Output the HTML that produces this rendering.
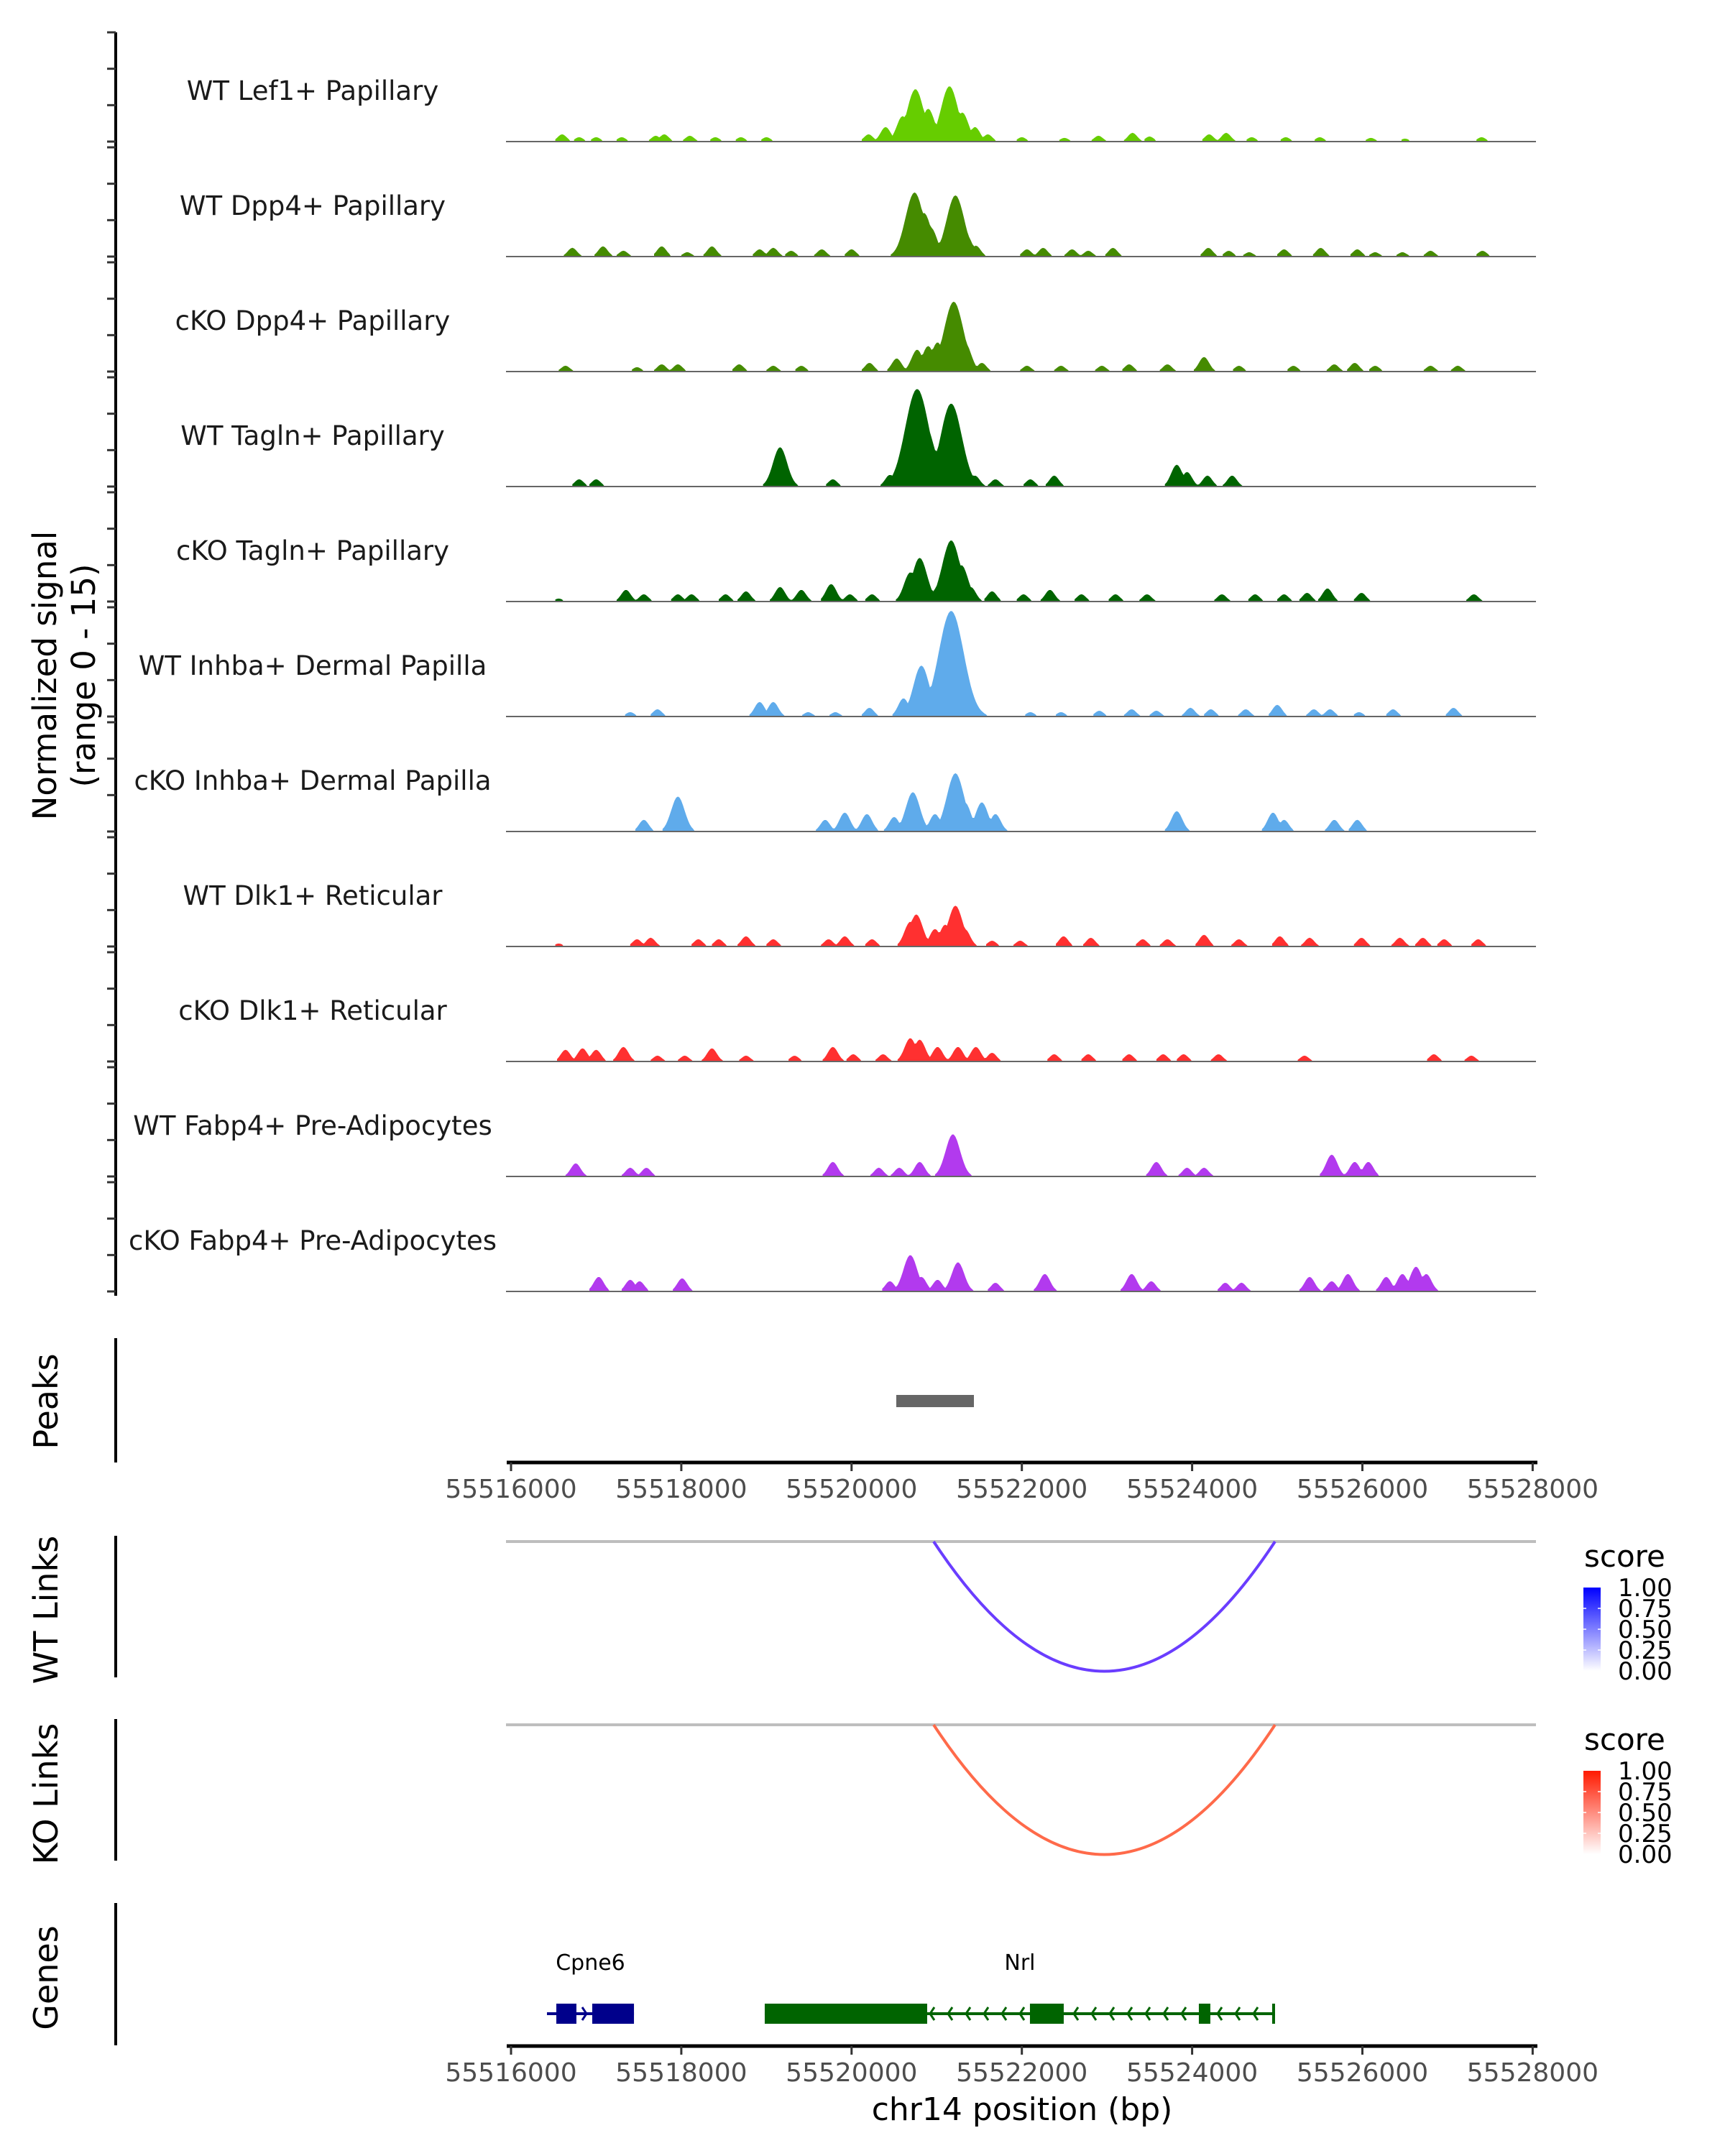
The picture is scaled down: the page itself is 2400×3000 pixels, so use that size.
<!DOCTYPE html>
<html><head><meta charset="utf-8">
<style>
html,body{margin:0;padding:0;background:#fff;}
svg{display:block;font-family:"DejaVu Sans","Liberation Sans",sans-serif;}
</style></head>
<body>
<svg id="fig" width="2400" height="3000" viewBox="0 0 2400 3000" xmlns="http://www.w3.org/2000/svg">
<rect width="2400" height="3000" fill="#fff"/>
</svg>
<script>
// ---- data ----
const regionStart = 55516000;
const regionEnd = 55528000;
const axisTicks = [55516000,55518000,55520000,55522000,55524000,55526000,55528000];
const trackNames = ["WT Lef1+ Papillary","WT Dpp4+ Papillary","cKO Dpp4+ Papillary","WT Tagln+ Papillary","cKO Tagln+ Papillary","WT Inhba+ Dermal Papilla","cKO Inhba+ Dermal Papilla","WT Dlk1+ Reticular","cKO Dlk1+ Reticular","WT Fabp4+ Pre-Adipocytes","cKO Fabp4+ Pre-Adipocytes"];
const trackColors = ["#66cd00","#458b00","#458b00","#006400","#006400","#5fabeb","#5fabeb","#ff3030","#ff3030","#b23aee","#b23aee"];
// peak positions (kb from region start) and heights (signal units)
const pos0 = [0.6,0.8,1.0,1.3,1.7,1.8,2.1,2.4,2.7,3.0,4.2,4.4,4.6,4.75,4.9,5.05,5.15,5.3,5.45,5.6,6.0,6.5,6.9,7.3,7.5,8.2,8.4,8.7,9.1,9.5,10.1,10.5,11.4];
const val0 = [1.0,0.6,0.6,0.6,0.8,1.0,0.8,0.6,0.6,0.6,1.0,2.0,3.5,7.2,4.5,3.0,7.6,4.0,2.0,1.0,0.6,0.5,0.8,1.2,0.7,1.0,1.2,0.6,0.6,0.6,0.5,0.4,0.6];
const pos1 = [0.72,1.08,1.32,1.77,2.07,2.36,2.92,3.08,3.29,3.65,4.0,4.61,4.74,4.85,4.93,5.1,5.22,5.35,5.46,6.06,6.25,6.59,6.78,7.07,8.19,8.43,8.67,9.08,9.51,9.94,10.15,10.47,10.8,11.41];
const val1 = [1.2,1.4,0.8,1.4,0.6,1.4,1.0,1.2,0.8,1.0,1.0,2.0,8.8,6.0,4.0,3.0,8.4,3.0,1.5,1.0,1.2,1.0,0.8,1.2,1.2,0.8,0.6,1.0,1.2,1.0,0.6,0.6,0.8,0.8];
const pos2 = [0.64,1.48,1.77,1.96,2.68,3.08,3.41,4.21,4.53,4.77,4.9,5.01,5.2,5.33,5.53,6.06,6.46,6.94,7.26,7.71,8.14,8.55,9.19,9.67,9.91,10.15,10.8,11.12];
const val2 = [0.8,0.6,1.0,1.0,1.0,0.8,0.8,1.2,1.8,3.0,3.5,4.0,9.6,4.0,1.2,0.8,0.8,0.8,1.0,1.0,2.0,0.8,0.8,1.0,1.2,0.8,0.8,0.8];
const pos3 = [0.8,1.0,3.16,3.78,4.45,4.77,4.88,4.98,5.17,5.25,5.33,5.45,5.69,6.1,6.38,7.82,7.94,8.18,8.47];
const val3 = [1.0,1.0,5.4,1.0,1.6,13.4,8.0,5.0,11.4,7.0,3.0,1.5,1.0,1.0,1.5,3.0,2.0,1.5,1.5];
const pos4 = [0.56,1.35,1.56,1.96,2.12,2.52,2.76,3.16,3.41,3.76,3.98,4.24,4.69,4.8,5.01,5.17,5.29,5.4,5.65,6.02,6.33,6.7,7.1,7.47,8.35,8.74,9.08,9.35,9.59,9.99,11.31];
const val4 = [0.4,1.6,1.0,1.0,1.0,1.0,1.4,2.0,1.6,2.4,1.0,1.0,4.0,6.0,2.0,8.4,5.0,2.0,1.4,1.0,1.6,1.0,1.0,1.0,1.0,1.0,1.0,1.2,1.8,1.2,1.0];
const pos5 = [1.4,1.72,2.92,3.08,3.49,3.81,4.21,4.61,4.82,4.92,5.01,5.17,5.3,5.49,6.1,6.46,6.91,7.29,7.58,7.98,8.22,8.63,9.0,9.43,9.62,9.96,10.36,11.07];
const val5 = [0.6,1.0,2.0,2.0,0.6,0.6,1.2,2.5,7.0,4.0,3.0,14.5,6.0,1.0,0.6,0.6,0.8,1.0,0.8,1.2,1.0,1.0,1.6,1.0,1.0,0.6,1.0,1.2];
const pos6 = [1.56,1.96,3.69,3.92,4.18,4.5,4.72,4.98,5.1,5.22,5.33,5.53,5.69,7.82,8.95,9.08,9.67,9.94];
const val6 = [1.6,4.8,1.6,2.6,2.4,2.0,5.4,2.4,2.4,8.0,4.0,4.0,2.4,2.8,2.6,1.6,1.6,1.6];
const pos7 = [0.56,1.48,1.64,2.2,2.44,2.76,3.08,3.73,3.92,4.24,4.69,4.76,4.98,5.1,5.22,5.33,5.65,5.98,6.49,6.81,7.42,7.71,8.14,8.55,9.03,9.38,9.99,10.44,10.71,10.96,11.36];
const val7 = [0.4,1.0,1.2,1.0,1.0,1.4,1.0,1.0,1.4,1.0,3.4,4.4,2.4,3.0,5.6,2.4,0.8,0.8,1.4,1.2,1.0,1.0,1.6,1.0,1.4,1.2,1.2,1.2,1.2,1.0,1.0];
const pos8 = [0.64,0.84,1.0,1.32,1.72,2.04,2.36,2.76,3.33,3.78,4.02,4.37,4.69,4.8,5.01,5.25,5.46,5.65,6.38,6.78,7.26,7.66,7.9,8.31,9.32,10.84,11.28];
const val8 = [1.6,1.8,1.6,2.0,0.8,0.8,1.8,0.8,0.8,2.0,1.0,1.0,3.2,3.0,2.0,2.0,2.0,1.2,1.0,1.0,1.0,1.0,1.0,1.0,0.8,1.0,0.8];
const pos9 = [0.76,1.4,1.59,3.78,4.32,4.56,4.8,5.19,7.58,7.94,8.14,9.64,9.91,10.07];
const val9 = [1.8,1.2,1.2,2.0,1.2,1.2,2.0,5.8,2.0,1.2,1.2,3.0,2.0,2.0];
const pos10 = [1.03,1.4,1.51,2.01,4.45,4.69,4.82,5.01,5.25,5.69,6.27,7.29,7.52,8.39,8.58,9.38,9.64,9.83,10.28,10.47,10.63,10.75];
const val10 = [2.0,1.6,1.4,1.8,1.4,5.0,2.0,1.6,4.0,1.2,2.4,2.4,1.4,1.2,1.2,2.0,1.4,2.4,2.0,2.4,3.4,2.4];
const trackPos = [pos0,pos1,pos2,pos3,pos4,pos5,pos6,pos7,pos8,pos9,pos10];
const trackVal = [val0,val1,val2,val3,val4,val5,val6,val7,val8,val9,val10];
const peakStart = [55520525];
const peakEnd = [55521437];
const wtLinkStart = [55520964], wtLinkEnd = [55524974], wtLinkScore = [0.78];
const koLinkStart = [55520964], koLinkEnd = [55524974], koLinkScore = [0.62];
const legendTicks = ["0.00","0.25","0.50","0.75","1.00"];
const geneNames = ["Cpne6","Nrl"];
const geneStart = [55516422,55518980];
const geneEnd = [55517444,55524974];
const geneStrand = [1,-1];
const geneColor = ["#00008b","#006400"];
const exonGene = [0,0,1,1,1,1];
const exonStart = [55516532,55516954,55518980,55522095,55524079,55524940];
const exonEnd   = [55516768,55517444,55520888,55522492,55524214,55524974];

// ---- scales ----
const X0 = 711, PXBP = 0.11845;
const xs = bp => X0 + (bp - regionStart) * PXBP;
const BASE0 = 197, TSTEP = 160, UNIT = 152/15;
const ys = (i,v) => BASE0 + i*TSTEP - v*UNIT;
const NS = "http://www.w3.org/2000/svg";
const svg = document.getElementById('fig');
function mk(tag, attrs, parent){
  const e = document.createElementNS(NS, tag);
  for (const k in attrs) e.setAttribute(k, attrs[k]);
  (parent||svg).appendChild(e);
  return e;
}

// signal y-axis
const yaxis = mk('g',{});


mk('line',{x1:161,y1:45,x2:161,y2:1803,stroke:'#000','stroke-width':4},yaxis);
for (let i=0;i<11;i++){
  for (let k=0;k<4;k++){
    const y = ys(i, k*5);
    mk('line',{x1:149,y1:y,x2:161,y2:y,stroke:'#333','stroke-width':3},yaxis);
  }
}
const yt = mk('text',{transform:'translate(78,940) rotate(-90)','text-anchor':'middle','font-size':45,fill:'#000'});


yt.textContent = 'Normalized signal';
const yt2 = mk('text',{transform:'translate(132,940) rotate(-90)','text-anchor':'middle','font-size':45,fill:'#000'});


yt2.textContent = '(range 0 - 15)';

// tracks
for (let i=0;i<11;i++){
  const g = mk('g',{});
  
  
  const lab = mk('text',{x:435,y:ys(i,0)-71+13,'text-anchor':'middle','font-size':37,fill:'#1a1a1a'},g);
  
  
  lab.textContent = trackNames[i];
  const P = trackPos[i], V = trackVal[i];
  const step = 0.02;
  let d = '';
  let inRun = false;
  for (let kb=0; kb<=12+1e-9; kb+=step){
    let v = 0;
    for (let j=0;j<P.length;j++){
      const s = 0.045 + 0.007*V[j];
      const t = (kb-P[j])/s;
      const c = V[j]*Math.exp(-0.5*t*t);
      if (c>v) v=c;
    }
    const x = xs(regionStart + kb*1000);
    if (v > 0.2){
      if (!inRun){ d += 'M'+x.toFixed(1)+','+ys(i,0)+' '; inRun=true; }
      d += 'L'+x.toFixed(1)+','+ys(i,v).toFixed(1)+' ';
    } else if (inRun){
      d += 'L'+x.toFixed(1)+','+ys(i,0)+' Z '; inRun=false;
    }
  }
  if (inRun) d += 'L'+xs(regionEnd)+','+ys(i,0)+' Z';
  const area = mk('path',{d:d,fill:trackColors[i]},g);
  
  
  mk('line',{x1:704,y1:ys(i,0),x2:2137,y2:ys(i,0),stroke:'#666','stroke-width':2},g);
}

// x-axis helper
function xAxis(y, name){
  const g = mk('g',{});
  
  
  mk('line',{x1:705,y1:y,x2:2139,y2:y,stroke:'#000','stroke-width':5},g);
  axisTicks.forEach(t=>{
    mk('line',{x1:xs(t),y1:y,x2:xs(t),y2:y+12,stroke:'#333','stroke-width':3},g);
    const tx = mk('text',{x:xs(t),y:y+49,'text-anchor':'middle','font-size':36,fill:'#4d4d4d'},g);
    
    
    tx.textContent = t;
  });
}
function sideAxis(y1,y2,cy,label,name){
  const g = mk('g',{});
  
  
  mk('line',{x1:161,y1:y1,x2:161,y2:y2,stroke:'#000','stroke-width':4},g);
  const t = mk('text',{transform:'translate(80,'+cy+') rotate(-90)','text-anchor':'middle','font-size':46,fill:'#000'},g);
  t.textContent = label;
}

// peaks
sideAxis(1862,2035,1950,'Peaks','peaks-axis');
peakStart.forEach((s,k)=>{
  const r = mk('rect',{x:xs(s),y:1941,width:xs(peakEnd[k])-xs(s),height:17,fill:'#666'});
  
  
});
xAxis(2035,'peaks-x-axis');

// links
function links(top, S, E, SC, col, name){
  mk('line',{x1:704,y1:top,x2:2137,y2:top,stroke:'#bebebe','stroke-width':4});
  S.forEach((s,k)=>{
    const x1 = xs(s), x2 = xs(E[k]);
    const depth = (x2-x1)*0.38;
    const p = mk('path',{d:'M'+x1+','+top+' Q'+((x1+x2)/2)+','+(top+2*depth)+' '+x2+','+top,fill:'none',stroke:col,'stroke-width':4});
    
    
  });
}
sideAxis(2137,2334,2240,'WT Links','wt-links-axis');
links(2145, wtLinkStart, wtLinkEnd, wtLinkScore, '#6a3dff', 'wt-link-arc');
sideAxis(2392,2589,2496,'KO Links','ko-links-axis');
links(2400, koLinkStart, koLinkEnd, koLinkScore, '#ff6a4a', 'ko-link-arc');

// legends
const defs = mk('defs',{});
function grad(id,col){
  const lg = mk('linearGradient',{id:id,x1:0,y1:1,x2:0,y2:0},defs);
  mk('stop',{offset:0,'stop-color':'#fff'},lg);
  mk('stop',{offset:1,'stop-color':col},lg);
}
grad('gb','#0000ff'); grad('gr','#ff1a00');
function legend(top, gid, name){
  const g = mk('g',{});
  
  
  const t = mk('text',{x:2204,y:top+40,'font-size':42,fill:'#000'},g);
  t.textContent = 'score';
  const by0 = top+69, bh = 116;
  mk('rect',{x:2203,y:by0,width:24,height:bh,fill:'url(#'+gid+')'},g);
  legendTicks.forEach((lb,k)=>{
    const y = by0 + bh - k*bh/4;
    if (k>0 && k<4){
      mk('line',{x1:2203,y1:y,x2:2207,y2:y,stroke:'#fff','stroke-width':1.5},g);
      mk('line',{x1:2223,y1:y,x2:2227,y2:y,stroke:'#fff','stroke-width':1.5},g);
    }
    const tx = mk('text',{x:2251,y:y+12,'font-size':34,fill:'#000'},g);
    tx.textContent = lb;
  });
}
legend(2140,'gb','wt-score-legend');
legend(2395,'gr','ko-score-legend');

// genes
sideAxis(2648,2846,2752,'Genes','genes-axis');
const GY = 2802;
geneNames.forEach((n,k)=>{
  const g = mk('g',{});
  
  
  const x1 = xs(geneStart[k]), x2 = xs(geneEnd[k]);
  mk('line',{x1:x1,y1:GY,x2:x2,y2:GY,stroke:geneColor[k],'stroke-width':4},g);
  for (let x = x1+30; x < x2-10; x += 25){
    const dir = geneStrand[k];
    mk('path',{d:'M'+(x-6*dir)+','+(GY-9)+' L'+x+','+GY+' L'+(x-6*dir)+','+(GY+9),fill:'none',stroke:geneColor[k],'stroke-width':3},g);
  }
  const lab = mk('text',{x:(x1+x2)/2,y:2741,'text-anchor':'middle','font-size':30,fill:'#000'},g);
  lab.textContent = n;
});
exonStart.forEach((s,k)=>{
  const r = mk('rect',{x:xs(s),y:2788,width:Math.max(4,xs(exonEnd[k])-xs(s)),height:28,fill:geneColor[exonGene[k]]});
  
  
});
xAxis(2847,'genes-x-axis');
const xt = mk('text',{x:1422,y:2950,'text-anchor':'middle','font-size':44,fill:'#000'});


xt.textContent = 'chr14 position (bp)';
</script>
</body></html>
